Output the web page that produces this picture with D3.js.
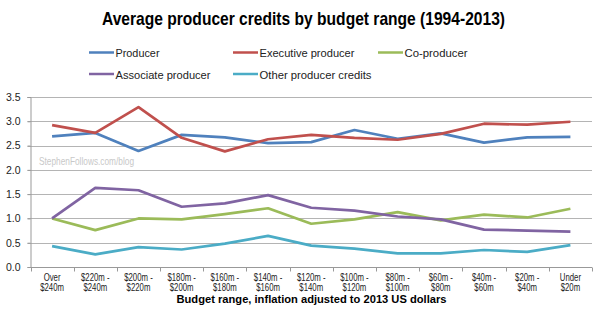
<!DOCTYPE html>
<html lang="en">
<head>
<meta charset="utf-8" />
<title>Average producer credits by budget range</title>
<script src="https://d3js.org/d3.v7.min.js"></script>
<style>
  html, body { margin: 0; padding: 0; background: #fff; }
  svg { display: block; }
  text { font-family: "Liberation Sans", Arial, sans-serif; }
</style>
</head>
<body>
<svg id="chart" width="600" height="321"></svg>
<script>
// categories (two-line labels)
const categories = [
  ["Over", "$240m"], ["$220m -", "$240m"], ["$200m -", "$220m"], ["$180m -", "$200m"],
  ["$160m -", "$180m"], ["$140m -", "$160m"], ["$120m -", "$140m"], ["$100m -", "$120m"],
  ["$80m -", "$100m"], ["$60m -", "$80m"], ["$40m -", "$60m"], ["$20m -", "$40m"],
  ["Under", "$20m"]
];

const seriesNames = ["Producer", "Executive producer", "Co-producer", "Associate producer", "Other producer credits"];
const seriesColors = ["#4f81bd", "#c0504d", "#9bbb59", "#8064a2", "#4bacc6"];

const producer   = [2.69, 2.76, 2.39, 2.72, 2.67, 2.55, 2.57, 2.82, 2.64, 2.75, 2.56, 2.67, 2.68];
const executive  = [2.92, 2.76, 3.29, 2.66, 2.38, 2.63, 2.72, 2.66, 2.62, 2.74, 2.95, 2.93, 2.99];
const coProducer = [1.00, 0.76, 1.00, 0.98, 1.09, 1.21, 0.89, 0.98, 1.13, 0.96, 1.08, 1.02, 1.20];
const associate  = [1.00, 1.63, 1.58, 1.24, 1.31, 1.48, 1.22, 1.16, 1.04, 0.98, 0.77, 0.75, 0.73];
const other      = [0.43, 0.26, 0.41, 0.36, 0.48, 0.64, 0.44, 0.38, 0.28, 0.28, 0.35, 0.31, 0.45];

const yTicks = [0, 0.5, 1.0, 1.5, 2.0, 2.5, 3.0, 3.5];

const series = [producer, executive, coProducer, associate, other];

const svg = d3.select("#chart");
const plotLeft = 30.5, plotRight = 592, plotTop = 97, plotBottom = 267;

const x = d3.scaleBand().domain(d3.range(categories.length)).range([plotLeft, plotRight]);
const y = d3.scaleLinear().domain([0, 3.5]).range([plotBottom, plotTop]);

// squeeze text horizontally (the original uses a narrow Myriad face)
function squeeze(sel, factor) {
  sel.each(function () {
    const w = this.getComputedTextLength();
    d3.select(this).attr("textLength", w * factor).attr("lengthAdjust", "spacingAndGlyphs");
  });
}

// title
svg.append("text")
  .attr("x", 303.5).attr("y", 24.5)
  .attr("text-anchor", "middle")
  .attr("font-size", 19).attr("font-weight", "bold")
  .attr("fill", "#000")
  .attr("textLength", 403).attr("lengthAdjust", "spacingAndGlyphs")
  .text("Average producer credits by budget range (1994-2013)");

// legend
const legendPos = [[89, 52.5], [233, 52.5], [378, 52.5], [89, 74], [233, 74]];
const legendWidths = [44, 95, 63, 95, 112];
seriesNames.forEach((name, i) => {
  const g = svg.append("g").attr("transform", `translate(${legendPos[i][0]},${legendPos[i][1]})`);
  g.append("line").attr("x1", 0).attr("x2", 25).attr("y1", 0).attr("y2", 0)
    .attr("stroke", seriesColors[i]).attr("stroke-width", 2.5);
  g.append("text")
    .attr("x", 26.5).attr("y", 4.6)
    .attr("font-size", 10.5).attr("fill", "#222")
    .attr("textLength", legendWidths[i]).attr("lengthAdjust", "spacingAndGlyphs")
    .text(name);
});

// gridlines
svg.append("g")
  .selectAll("line")
  .data(yTicks.filter(d => d > 0))
  .join("line")
  .attr("x1", plotLeft - 3).attr("x2", plotRight)
  .attr("y1", d => Math.round(y(d)) + 0.5).attr("y2", d => Math.round(y(d)) + 0.5)
  .attr("stroke", "#b4b4b4").attr("stroke-width", 1);

// watermark
svg.append("text")
  .attr("x", 39).attr("y", 164.5)
  .attr("font-size", 11.5).attr("fill", "#c8c8c8")
  .attr("textLength", 95).attr("lengthAdjust", "spacingAndGlyphs")
  .text("StephenFollows.com/blog");

// y axis
const yAxis = svg.append("g")
  .attr("transform", `translate(${plotLeft},0)`)
  .call(d3.axisLeft(y).tickValues(yTicks).tickFormat(d3.format(".1f")).tickSize(3).tickPadding(7));
yAxis.select(".domain").attr("stroke", "#999");
yAxis.selectAll(".tick line").attr("stroke", "#999");
yAxis.selectAll("text")
  .attr("font-family", "'Liberation Sans', sans-serif")
  .attr("font-size", 10.5).attr("fill", "#222");

// x axis
const xAxisG = svg.append("g").attr("transform", `translate(0,${plotBottom + 0.5})`);
xAxisG.append("line").attr("x1", plotLeft).attr("x2", plotRight).attr("stroke", "#999");
xAxisG.selectAll(".xt")
  .data(d3.range(categories.length + 1))
  .join("line")
  .attr("class", "xt")
  .attr("x1", i => Math.round(plotLeft + x.step() * i) + 0.5)
  .attr("x2", i => Math.round(plotLeft + x.step() * i) + 0.5)
  .attr("y1", 0).attr("y2", 4)
  .attr("stroke", "#999");

const xl = svg.append("g").selectAll("text")
  .data(categories)
  .join("text")
  .attr("text-anchor", "middle")
  .attr("font-size", 10.5).attr("fill", "#222")
  .attr("transform", (d, i) => `translate(${x(i) + x.bandwidth() / 2},0)`);
xl.append("tspan").attr("x", 0).attr("y", 280.5).text(d => d[0]);
xl.append("tspan").attr("x", 0).attr("y", 291).text(d => d[1]);
squeeze(xl.selectAll("tspan"), 0.74);

// axis title
svg.append("text")
  .attr("x", 311.5).attr("y", 303)
  .attr("text-anchor", "middle")
  .attr("font-size", 11).attr("font-weight", "bold").attr("fill", "#000")
  .attr("textLength", 270).attr("lengthAdjust", "spacingAndGlyphs")
  .text("Budget range, inflation adjusted to 2013 US dollars");

// lines
const line = d3.line()
  .x((d, i) => x(i) + x.bandwidth() / 2)
  .y(d => y(d));

svg.append("g")
  .selectAll("path")
  .data(series)
  .join("path")
  .attr("d", line)
  .attr("fill", "none")
  .attr("stroke", (d, i) => seriesColors[i])
  .attr("stroke-width", 2.7)
  .attr("stroke-linejoin", "round");
</script>
</body>
</html>
